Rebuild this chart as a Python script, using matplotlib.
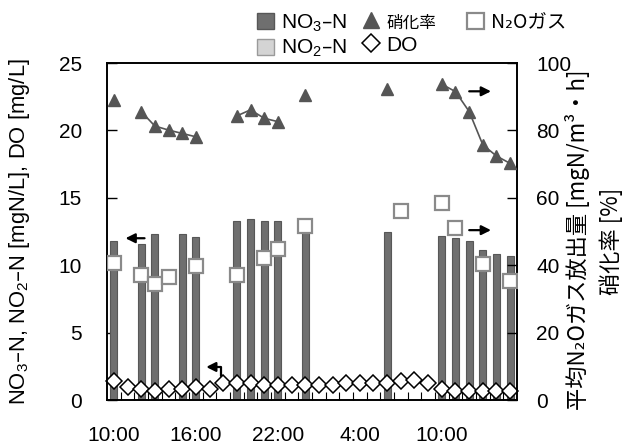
import numpy as np
import matplotlib
matplotlib.use("Agg")
import matplotlib.pyplot as plt
from matplotlib.lines import Line2D
from matplotlib.patches import Patch
from matplotlib.ticker import FixedLocator, NullFormatter

plt.rcParams['font.family'] = ['Liberation Sans', 'Noto Sans CJK JP', 'DejaVu Sans']
plt.rcParams['mathtext.default'] = 'regular'

nan = np.nan
# hourly categories, 10:00 day 1 .. 15:00 day 2
hours = list(range(30))
tick_pos = [0, 6, 12, 18, 24]
tick_labels = ['10:00', '16:00', '22:00', '4:00', '10:00']

# NO3-N [mgN/L]
no3_hours = [0, 2, 3, 5, 6, 9, 10, 11, 12, 14, 20, 24, 25, 26, 27, 28, 29]
no3_vals = [11.8, 11.6, 12.3, 12.3, 12.1, 13.3, 13.4, 13.3, 13.3, 12.9, 12.5,
            12.2, 12.0, 11.8, 11.1, 10.8, 10.7]

# nitrification rate [%]
nitr = [89.0, nan, 85.6, 81.3, 80.1, 79.1, 78.1, nan, nan, 84.3, 86.1, 83.6, 82.6,
        nan, 90.5, nan, nan, nan, nan, nan, 92.2, nan, nan, nan, 93.7, 91.5, 85.6,
        75.7, 72.4, 70.2]

# N2O emission [mgN/m3.h]
n2o = [40.8, nan, 37.1, 34.4, 36.6, nan, 39.9, nan, nan, 37.1, nan, 42.0, 44.7,
       nan, 51.6, nan, nan, nan, nan, nan, nan, 56.1, nan, nan, 58.4, 51.1, nan,
       40.3, nan, 35.4]

# DO [mg/L]
do = [1.43, 0.94, 0.84, 0.64, 0.80, 0.80, 0.94, 0.80, 1.23, 1.23, 1.23, 1.09, 1.09,
      1.09, 1.09, 1.09, 1.09, 1.23, 1.28, 1.28, 1.28, 1.38, 1.48, 1.23, 0.80, 0.64,
      0.64, 0.64, 0.64, 0.64]

fig = plt.figure(figsize=(6.42, 4.46), dpi=100)
ax = fig.add_axes([107/642, 1-400/446, 410/642, 337/446])
ax2 = ax.twinx()

ax.bar(no3_hours, no3_vals, width=0.5, color='#6f6f6f', edgecolor='#575757',
       linewidth=0.8, zorder=2)
ax.plot(hours, do, linestyle='none', marker='D', ms=8.4, mfc='white', mec='black',
        mew=1.1, zorder=3, clip_on=False)

ax2.plot(hours, nitr, color='#555555', lw=1.2, marker='^', ms=9, mfc='#555555',
         mec='#555555', zorder=3)
ax2.plot(hours, n2o, linestyle='none', marker='s', ms=10, mfc='white', mec='#8a8a8a',
         mew=1.6, zorder=4)

ax.set_xlim(-0.5, 29.5)
ax.set_ylim(0, 25)
ax2.set_ylim(0, 100)
ax.set_yticks([0, 5, 10, 15, 20, 25])
ax2.set_yticks([0, 20, 40, 60, 80, 100])
ax.set_xticks(tick_pos)
ax.set_xticklabels(tick_labels)
ax.xaxis.set_minor_locator(FixedLocator(np.arange(0.5, 29.5, 1.0)))
ax.xaxis.set_minor_formatter(NullFormatter())

ax.tick_params(axis='x', which='major', length=0, labelsize=15, pad=19)
ax.tick_params(axis='x', which='minor', direction='in', length=6, width=0.8)
ax.tick_params(axis='y', direction='in', length=7, width=1, labelsize=15, pad=18)
ax2.tick_params(axis='y', direction='in', length=7, width=1, labelsize=15, pad=14)

for a in (ax, ax2):
    for s in a.spines.values():
        s.set_linewidth(1.2)

fig.text(20/642, 1-232/446, 'NO$_3$–N, NO$_2$–N [mgN/L], DO [mg/L]', rotation=90,
         ha='center', va='center', fontsize=15.8)

cjk = ['Noto Sans CJK JP', 'DejaVu Sans']
fig.text(577/642, 1-240/446, '平均N₂Oガス放出量 [mgN/m³・h]', rotation=90,
         ha='center', va='center', fontsize=16, family=cjk)
fig.text(611/642, 1-241/446, '硝化率 [%]', rotation=90, ha='center', va='center',
         fontsize=16, family=cjk)

arrow_kw = dict(arrowstyle='-|>', color='black', lw=1.6, mutation_scale=14)
ax.annotate('', xy=(0.65, 12.0), xytext=(2.45, 12.0), arrowprops=arrow_kw)
ax.annotate('', xy=(6.55, 2.45), xytext=(7.85, 1.55),
            arrowprops=dict(arrow_kw, connectionstyle='angle,angleA=90,angleB=0,rad=0'))
ax.annotate('', xy=(27.8, 22.9), xytext=(25.8, 22.9), arrowprops=arrow_kw)
ax.annotate('', xy=(27.8, 12.6), xytext=(25.8, 12.6), arrowprops=arrow_kw)

leg_kw = dict(loc='upper left', frameon=False, fontsize=15, handlelength=0.8,
              handleheight=0.8, handletextpad=0.35, labelspacing=0.2, borderaxespad=0)

h_no3 = Patch(facecolor='#6f6f6f', edgecolor='#575757')
h_no2 = Patch(facecolor='#d4d4d4', edgecolor='#9a9a9a')
h_nit = Line2D([], [], linestyle='none', marker='^', ms=12, mfc='#555555', mec='#555555')
h_do = Line2D([], [], linestyle='none', marker='D', ms=9, mfc='white', mec='black', mew=1.1)
h_n2o = Patch(facecolor='white', edgecolor='#8a8a8a', linewidth=1.6)

leg1 = fig.legend([h_no3, h_no2], ['NO$_3$–N', 'NO$_2$–N'],
                  bbox_to_anchor=(249/642, 1-4/446), **leg_kw)
leg2 = fig.legend([h_nit, h_do], ['硝化率', 'DO'],
                  bbox_to_anchor=(354/642, 1-4/446), **leg_kw)
leg2.get_texts()[0].set_family(cjk)
leg2.get_texts()[0].set_fontsize(12)
leg3 = fig.legend([h_n2o], ['N₂Oガス'],
                  bbox_to_anchor=(459/642, 1-4/446), **leg_kw)
leg3.get_texts()[0].set_family(cjk)
leg3.get_texts()[0].set_fontsize(14)

fig.savefig('out.png', dpi=100)
